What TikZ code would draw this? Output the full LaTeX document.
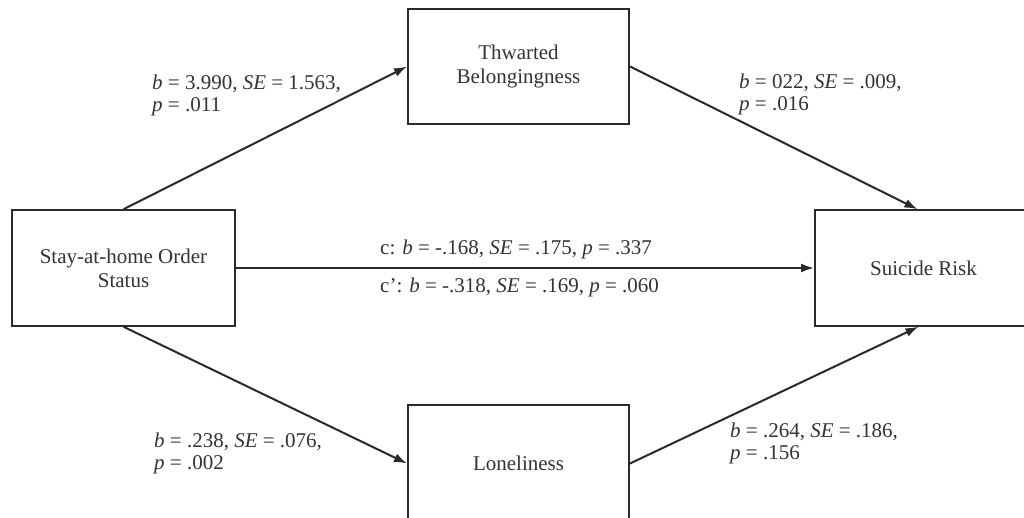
\documentclass[tikz,border=0pt]{standalone}
\usepackage{fontspec}
\setmainfont{Liberation Serif}
\usetikzlibrary{arrows.meta,positioning,calc}
\definecolor{ink}{HTML}{2A2A2A}
\definecolor{txt}{HTML}{333333}
\tikzset{
  varbox/.style={draw=ink, line width=2pt, fill=white, inner sep=0pt, align=center,
    font=\fontsize{21}{24}\selectfont, text=txt},
  path/.style={draw=ink, line width=2pt, -{Latex[length=13pt,width=9pt]}},
  lbl/.style={inner sep=0pt, align=left, anchor=west, text=txt,
    font=\fontsize{21}{22}\selectfont}
}
\begin{document}
\begin{tikzpicture}[x=1pt,y=-1pt]
\useasboundingbox (0,0) rectangle (1024,518);
\clip (0,0) rectangle (1024,518);
\fill[white] (0,0) rectangle (1024,518);
\node[varbox, minimum width=221pt, minimum height=115pt] (tb) at (518.5,66.5) {Thwarted\\Belongingness};
\node[varbox, minimum width=223pt, minimum height=115.5pt] (st) at (123.5,268) {Stay-at-home Order\\Status};
\node[varbox, minimum width=217pt, minimum height=115.5pt] (sr) at (923.5,268) {Suicide Risk};
\node[varbox, minimum width=221pt, minimum height=117pt] (lo) at (518.5,463.5) {Loneliness};
\coordinate (srtop) at ($(sr.north)+(-6,0)$);
\coordinate (srbot) at ($(sr.south)+(-5,0)$);
\draw[path] (st.north) -- (tb.west);
\draw[path] (tb.east) -- (srtop);
\draw[path] (st.east) -- (sr.west);
\draw[path] (st.south) -- (lo.west);
\draw[path] (lo.east) -- (srbot);
\node[lbl] (l1) at (152,95) {\textit{b} = 3.990, \textit{SE} = 1.563,\\\textit{p} = .011};
\node[lbl] (l2) at (739,94) {\textit{b} = 022, \textit{SE} = .009,\\\textit{p} = .016};
\node[lbl] (l3) at (380,249) {c: \textit{b} = -.168, \textit{SE} = .175, \textit{p} = .337};
\node[lbl] (l4) at (380,287) {c’: \textit{b} = -.318, \textit{SE} = .169, \textit{p} = .060};
\node[lbl] (l5) at (154,453) {\textit{b} = .238, \textit{SE} = .076,\\\textit{p} = .002};
\node[lbl] (l6) at (730,443) {\textit{b} = .264, \textit{SE} = .186,\\\textit{p} = .156};
\end{tikzpicture}
\end{document}
